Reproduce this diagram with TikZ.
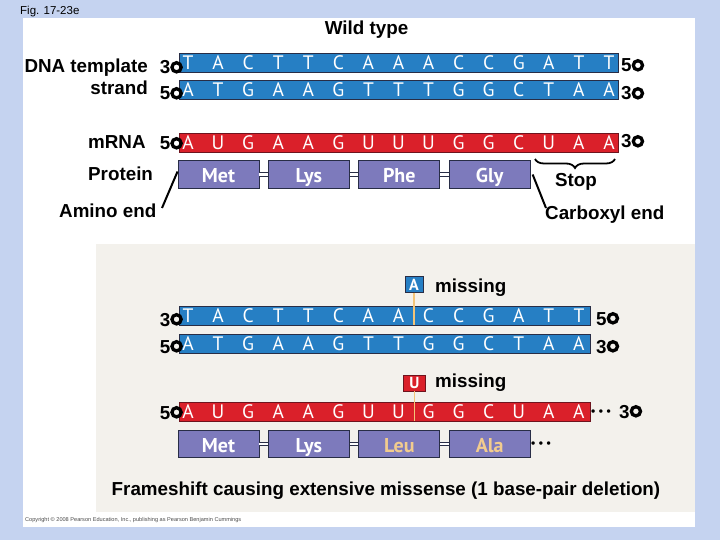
\documentclass[tikz,border=0pt]{standalone}
\usepackage{fontspec}
\setmainfont{Liberation Sans}
\newfontfamily\basefont{PT Sans}
\usetikzlibrary{
    positioning,
    decorations.pathreplacing
}

\definecolor{slidebg}{RGB}{197,211,240}
\definecolor{panelbeige}{RGB}{243,241,236}
\definecolor{dnablue}{RGB}{38,127,196}
\definecolor{rnared}{RGB}{218,32,42}
\definecolor{rnaedge}{RGB}{110,20,30}
\definecolor{aapurple}{RGB}{125,122,188}
\definecolor{edgedark}{RGB}{40,45,70}
\definecolor{mutorange}{RGB}{243,196,120}
\definecolor{mutaa}{RGB}{242,204,142}

% 3'/5' end ring
\newcommand{\ring}{\tikz[baseline=0pt,x=1pt,y=1pt]{\path (0,0) rectangle (12.5,1); \draw[line width=3.3pt] (6.25,6.7) circle (4.6);}}
\newcommand{\aadots}{{\fontsize{12}{12}\selectfont\textbullet\hspace{3.5pt}\textbullet\hspace{3.5pt}\textbullet}}

\begin{document}
\begin{tikzpicture}[
    x=1pt, y=-1pt,
    lbl/.style={
        font=\fontsize{18.8}{22}\selectfont\bfseries,
        inner sep=0pt
    },
    nucl/.style={
        anchor=base,
        inner sep=0pt,
        text=white,
        font=\basefont\fontsize{19.5}{19.5}\selectfont
    },
    dnabar/.style={
        rectangle,
        draw=edgedark,
        line width=0.8pt,
        fill=dnablue,
        minimum height=19pt,
        inner sep=0pt,
        anchor=west
    },
    rnabar/.style={
        dnabar,
        fill=rnared,
        draw=rnaedge
    },
    aabox/.style={
        rectangle,
        draw=edgedark,
        line width=0.9pt,
        fill=aapurple,
        minimum width=81pt,
        minimum height=27.5pt,
        inner sep=0pt,
        text height=21pt,
        text depth=4pt,
        text=white,
        font=\basefont\bfseries\fontsize{20}{20}\selectfont
    },
    aalink/.style={
        draw=edgedark,
        line width=1pt,
        double=white,
        double distance=2.4pt
    },
    mutbox/.style={
        rectangle,
        draw=edgedark,
        line width=0.8pt,
        fill=dnablue,
        minimum width=18pt,
        minimum height=15.5pt,
        inner sep=0pt,
        text height=11.2pt,
        text depth=0pt,
        text=white,
        font=\basefont\bfseries\fontsize{16}{16}\selectfont
    },
    mutline/.style={
        draw=mutorange,
        line width=1.4pt
    },
    pointer/.style={
        line width=2pt
    }
]

% =========================================================
% Slide background and panels
% =========================================================
\useasboundingbox (0,0) rectangle (720,540);
\fill[slidebg] (0,0) rectangle (720,540);
\fill[white] (23,18) rectangle (695,527);
\fill[panelbeige] (96,244) rectangle (695,512);

\node[anchor=base west, inner sep=0pt, font=\fontsize{11.5}{12}\selectfont] (figno) at (20,15) {Fig. 17-23e};
\node[anchor=base west, inner sep=0pt, font=\fontsize{5.6}{6}\selectfont, text=black!70] (copyline) at (25,521.5)
{Copyright \textcopyright{} 2008 Pearson Education, Inc., publishing as Pearson Benjamin Cummings};

% =========================================================
% Wild type
% =========================================================
\node[lbl, anchor=base] (wildtitle) at (366.5,35) {Wild type};

\node[dnabar, minimum width=439pt] (wtop) at (179,62.5) {};
\node[dnabar, minimum width=439pt] (wbot) at (179,90) {};
\node[rnabar, minimum width=439pt] (wrna) at (179,142.5) {};

\foreach \b [count=\i] in {T,A,C,T,T,C,A,A,A,C,C,G,A,T,T}
    \node[nucl] (wt\i) at ({188+30.07*(\i-1)},69.3) {\b};
\foreach \b [count=\i] in {A,T,G,A,A,G,T,T,T,G,G,C,T,A,A}
    \node[nucl] (wb\i) at ({188+30.07*(\i-1)},96.8) {\b};
\foreach \b [count=\i] in {A,U,G,A,A,G,U,U,U,G,G,C,U,A,A}
    \node[nucl] (wr\i) at ({188+30.07*(\i-1)},149.3) {\b};

\node[lbl, anchor=base east] (dnalbl) at (148,73) {DNA template};
\node[lbl, anchor=base east] (strandlbl) at (148,95) {strand};
\node[lbl, anchor=base west] (mrnalbl) at (88,149) {mRNA};
\node[lbl, anchor=base west] (protlbl) at (88,181) {Protein};

\node[lbl, anchor=base east] (wtopl) at (183,74) {3\ring};
\node[lbl, anchor=base east] (wbotl) at (183,100) {5\ring};
\node[lbl, anchor=base east] (wrnal) at (183,150) {5\ring};
\node[lbl, anchor=base west] (wtopr) at (621,72) {5\ring};
\node[lbl, anchor=base west] (wbotr) at (621,100) {3\ring};
\node[lbl, anchor=base west] (wrnar) at (621,148) {3\ring};

\node[aabox] (met) at (218.5,174.5) {Met};
\node[aabox, right=8.5pt of met] (lys) {Lys};
\node[aabox, right=8.5pt of lys] (phe) {Phe};
\node[aabox, right=8.5pt of phe] (gly) {Gly};
\draw[aalink] (met) -- (lys);
\draw[aalink] (lys) -- (phe);
\draw[aalink] (phe) -- (gly);

\coordinate (stopl) at (535,159);
\coordinate (stopr) at (615,159);
\draw[decorate, decoration={brace, amplitude=9pt, mirror}, line width=1.8pt] (stopl) -- (stopr);
\node[lbl, anchor=base] (stoplbl) at (576,187) {Stop};

\node[lbl, anchor=base west] (aminolbl) at (59,218) {Amino end};
\coordinate (aminotip) at (162,208);
\draw[pointer] (aminotip) -- ([yshift=3pt]met.west);

\node[lbl, anchor=base west] (carblbl) at (545,220) {Carboxyl end};
\coordinate (carbtip) at (546,208);
\draw[pointer] ([xshift=2pt]gly.east) -- (carbtip);

% =========================================================
% Frameshift mutant
% =========================================================
\node[dnabar, minimum width=411pt] (mtop) at (179,315.5) {};
\node[dnabar, minimum width=411pt] (mbot) at (179,343.5) {};
\node[rnabar, minimum width=411pt] (mrna) at (179,411.5) {};

\foreach \b [count=\i] in {T,A,C,T,T,C,A,A,C,C,G,A,T,T}
    \node[nucl] (mt\i) at ({188+30.07*(\i-1)},322.3) {\b};
\foreach \b [count=\i] in {A,T,G,A,A,G,T,T,G,G,C,T,A,A}
    \node[nucl] (mb\i) at ({188+30.07*(\i-1)},350.3) {\b};
\foreach \b [count=\i] in {A,U,G,A,A,G,U,U,G,G,C,U,A,A}
    \node[nucl] (mr\i) at ({188+30.07*(\i-1)},418.3) {\b};

\node[mutbox] (abox) at (414,284.5) {A};
\node[lbl, anchor=base west] (amiss) at (435,292) {missing};
\draw[mutline] (abox.south) -- (abox.south |- mtop.south);

\node[mutbox, fill=rnared, draw=rnaedge, minimum width=22pt, minimum height=16pt] (ubox) at (414.5,383) {U};
\node[lbl, anchor=base west] (umiss) at (435,387) {missing};
\draw[mutline] (ubox.south) -- (ubox.south |- mrna.south);

\node[lbl, anchor=base east] (mtopl) at (183,326) {3\ring};
\node[lbl, anchor=base east] (mbotl) at (183,353) {5\ring};
\node[lbl, anchor=base east] (mrnal) at (183,419) {5\ring};
\node[lbl, anchor=base west] (mtopr) at (596,325) {5\ring};
\node[lbl, anchor=base west] (mbotr) at (596,353) {3\ring};
\node[lbl, anchor=base west] (rnadots) at (591,415) {\aadots};
\node[lbl, anchor=base west] (mrnar) at (619,418) {3\ring};

\node[aabox] (mmet) at (218.5,444) {Met};
\node[aabox, right=8.5pt of mmet] (mlys) {Lys};
\node[aabox, right=8.5pt of mlys, text=mutaa] (mleu) {Leu};
\node[aabox, right=8.5pt of mleu, text=mutaa] (mala) {Ala};
\draw[aalink] (mmet) -- (mlys);
\draw[aalink] (mlys) -- (mleu);
\draw[aalink] (mleu) -- (mala);
\node[lbl, anchor=base west] (aadotsr) at (531,447.5) {\aadots};

\node[lbl, anchor=base] (fscaption) at (386,495)
{Frameshift causing extensive missense (1 base-pair deletion)};

\end{tikzpicture}
\end{document}
